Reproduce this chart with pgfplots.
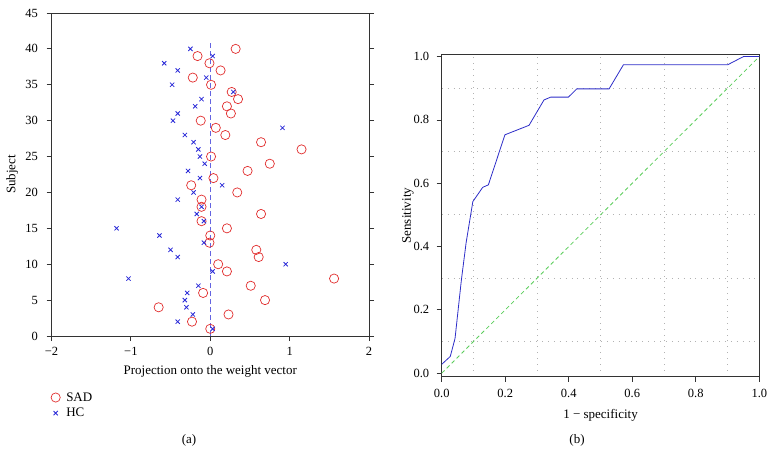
\documentclass[border=0pt]{standalone}
\usepackage{pgfplots}
\pgfplotsset{compat=1.18}
\usepackage{pgfplotstable}
\usepackage{fontspec}
\setmainfont{Liberation Serif}
\definecolor{sadred}{RGB}{225,45,45}
\definecolor{hcblue}{RGB}{40,40,215}
\definecolor{rocblue}{RGB}{45,45,200}
\definecolor{diaggreen}{RGB}{90,205,90}
\definecolor{vline}{RGB}{100,100,225}

\pgfplotstableread{
x y
0.32 40
-0.16 39
-0.01 38
0.13 37
-0.22 36
0.01 35
0.27 34
0.35 33
0.21 32
0.26 31
-0.12 30
0.07 29
0.19 28
0.64 27
1.15 26
0.01 25
0.75 24
0.47 23
0.04 22
-0.24 21
0.34 20
-0.11 19
-0.11 18
0.64 17
-0.11 16
0.21 15
0.00 14
-0.01 13
0.58 12
0.61 11
0.10 10
0.21 9
1.56 8
0.51 7
-0.09 6
0.69 5
-0.65 4
0.23 3
-0.23 2
0.00 1
}\sad

\pgfplotstableread{
x y
-0.25 40
0.03 39
-0.58 38
-0.41 37
-0.05 36
-0.48 35
0.29 34
-0.11 33
-0.19 32
-0.41 31
-0.47 30
0.91 29
-0.32 28
-0.21 27
-0.15 26
-0.13 25
-0.07 24
-0.28 23
-0.13 22
0.15 21
-0.21 20
-0.41 19
-0.11 18
-0.17 17
-0.08 16
-1.18 15
-0.64 14
-0.08 13
-0.50 12
-0.41 11
0.95 10
0.03 9
-1.03 8
-0.15 7
-0.29 6
-0.32 5
-0.30 4
-0.22 3
-0.41 2
0.03 1
}\hc

\pgfplotstableread{
x y
0.000 0.028
0.027 0.053
0.042 0.110
0.062 0.295
0.077 0.413
0.098 0.542
0.129 0.587
0.147 0.595
0.199 0.753
0.275 0.783
0.322 0.863
0.343 0.872
0.399 0.872
0.425 0.898
0.527 0.898
0.572 0.974
0.900 0.974
0.950 1.000
1.000 1.000
}\roc

\begin{document}
\begin{tikzpicture}
\path[use as bounding box] (0pt,0pt) rectangle (775pt,-454pt);
\begin{axis}[
  at={(51.5pt,-336pt)}, anchor=south west,
  scale only axis, width=317.5pt, height=323pt,
  xmin=-2, xmax=2, ymin=0, ymax=45,
  xtick={-2,-1,0,1,2}, xticklabels={−2,−1,0,1,2},
  ytick={0,5,...,45},
  xtick pos=bottom, ytick pos=both,
  tick align=outside, major tick length=5pt,
  axis line style={black!80, line width=0.8pt},
  tick style={black!80, line width=0.8pt},
  /pgf/number format/assume math mode=true,
  tick label style={font=\fontsize{12.5}{14}\selectfont},
  xticklabel style={yshift=-3pt},
  yticklabel style={xshift=-5pt},
  label style={font=\fontsize{13}{15}\selectfont},
  xlabel={Projection onto the weight vector},
  ylabel={Subject},
  xlabel style={at={(axis description cs:0.5,-0.110)}, anchor=center},
  ylabel style={at={(axis description cs:-0.124,0.5)}, anchor=center},
  legend style={at={(axis description cs:-0.002,-0.168)}, anchor=north west, draw=none, fill=none,
    font=\fontsize{13}{15}\selectfont, row sep=1.5pt, column sep=4pt, inner sep=0pt},
  legend cell align=left,
  clip=false,
]
\addplot[only marks, mark=o, mark size=4.6pt, sadred, mark options={line width=0.7pt}] table[x=x,y=y] {\sad};
\addlegendentry{SAD}
\addplot[only marks, mark=x, mark size=3pt, hcblue, mark options={line width=0.8pt}] table[x=x,y=y] {\hc};
\addlegendentry{HC}
\addplot[vline, line width=0.8pt, dash pattern=on 5pt off 3pt, forget plot] coordinates {(0,0) (0,41)};
\end{axis}

\begin{axis}[
  at={(441.7pt,-376.7pt)}, anchor=south west,
  scale only axis, width=317.6pt, height=322pt,
  xmin=0, xmax=1, ymin=-0.011, ymax=1.006,
  xtick={0,0.2,...,1}, ytick={0,0.2,...,1},
  minor xtick={0.1,0.3,0.5,0.7,0.9}, minor ytick={0.1,0.3,0.5,0.7,0.9},
  minor tick length=0pt,
  xminorgrids=true, yminorgrids=true,
  minor grid style={gray!60, line width=0.9pt, dash pattern=on 0.9pt off 5pt},
  xtick pos=bottom, ytick pos=left,
  tick align=outside, major tick length=5pt,
  axis line style={black!80, line width=0.8pt},
  tick style={black!80, line width=0.8pt},
  /pgf/number format/assume math mode=true,
  /pgf/number format/.cd, fixed, fixed zerofill, precision=1, /tikz/.cd,
  tick label style={font=\fontsize{12.5}{14}\selectfont},
  xticklabel style={yshift=-4pt},
  yticklabel style={xshift=-4pt},
  label style={font=\fontsize{13}{15}\selectfont},
  xlabel={1 − specificity},
  ylabel={Sensitivity},
  xlabel style={at={(axis description cs:0.5,-0.119)}, anchor=center},
  ylabel style={at={(axis description cs:-0.106,0.5)}, anchor=center},
  clip=false,
]
\addplot[diaggreen, line width=0.8pt, dash pattern=on 4pt off 3pt] coordinates {(0,0) (1,1)};
\addplot[rocblue, line width=0.8pt] table[x=x,y=y] {\roc};
\end{axis}

\node[font=\fontsize{13}{15}\selectfont] at (189pt,-440pt) {(a)};
\node[font=\fontsize{13}{15}\selectfont] at (577pt,-440pt) {(b)};
\end{tikzpicture}
\end{document}
